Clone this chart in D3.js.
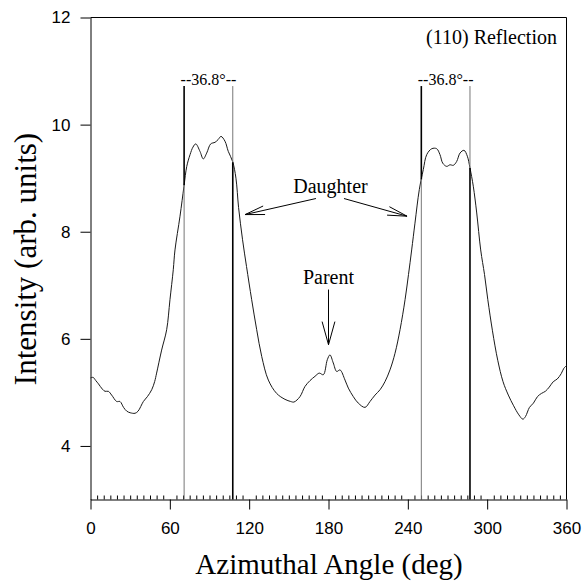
<!DOCTYPE html>
<html>
<head>
<meta charset="utf-8">
<script src="https://cdn.jsdelivr.net/npm/d3@7"></script>
<style>
body{margin:0;background:#fff;}
svg{display:block;}
.serif{font-family:"Liberation Serif","Times New Roman",serif;}
.tick text{font-family:"Liberation Sans",Arial,sans-serif;font-size:17px;fill:#000;}
</style>
</head>
<body>
<div id="graph"></div>
<script>
// azimuthal scan
var angle=[0,2,4,6,9,11,13.5,16,19.8,22.3,25,27.4,30,33.7,36,40,43,46.3,48.5,50,53.8,57.6,60.1,62.6,63.9,67.7,70.7,72.8,75.3,77.5,79.6,82.8,85.3,87.9,90.9,94.2,96.5,98.7,101.7,104.2,107.5,110,112,115,118,121.9,125.7,129.5,134.5,140.8,147.1,151.4,153.9,158.4,162.2,166,169.8,173,176.1,179.1,181.1,183.6,186.2,188.7,192.5,195,198.8,202.5,207.6,211.4,215.2,219,222.7,226.5,230.3,234.1,237.9,240.5,242.9,245.4,248.7,251.7,254.3,258.1,261.8,264.3,266.4,269.4,271.9,274.4,276.9,279.5,282.5,285,287,289.5,292.1,295.1,298,300.5,304,308,312,316,320,324,327,329,332,335,338,341,344,347,350,353,356,358,360];
var intensity=[5.27,5.28,5.22,5.16,5.06,5.02,5.02,4.95,4.83,4.83,4.72,4.65,4.62,4.61,4.65,4.83,4.92,5.05,5.2,5.36,5.79,6.17,6.73,7.29,7.66,8.29,8.85,9.22,9.44,9.58,9.64,9.5,9.36,9.47,9.64,9.67,9.72,9.78,9.69,9.5,9.31,9.0,8.45,7.85,7.35,6.73,6.17,5.67,5.23,4.98,4.87,4.83,4.82,4.92,5.11,5.22,5.3,5.36,5.33,5.61,5.7,5.55,5.39,5.42,5.23,5.08,4.92,4.8,4.72,4.83,4.95,5.05,5.2,5.42,5.73,6.17,6.73,7.2,7.66,8.16,8.79,9.16,9.44,9.55,9.55,9.44,9.28,9.22,9.25,9.24,9.31,9.47,9.52,9.41,9.19,8.85,8.35,7.66,7.2,6.73,6.15,5.6,5.2,4.95,4.75,4.58,4.5,4.55,4.72,4.8,4.92,4.98,5.02,5.1,5.2,5.25,5.35,5.45,5.5];

var xTicks=[0,60,120,180,240,300,360];
var yTicks=[4,6,8,10,12];
var markerAngles=[70.8,107.6,250.2,287.0];
var markerTop=10.72;
var gapLabel="--36.8°--";

var width=584,height=581;
var svg=d3.select("#graph").append("svg")
  .attr("width",width).attr("height",height);

var x=d3.scaleLinear().domain([0,360]).range([90.5,566.5]);
var y=d3.scaleLinear().domain([3,12]).range([499.5,17.5]);

// frame top and right
svg.append("path")
  .attr("d","M"+x(0)+","+y(12)+"H"+x(360)+"V"+y(3))
  .attr("fill","none").attr("stroke","#000").attr("stroke-width",1);

// minor ticks inside
var minor=d3.range(5,360,5).filter(function(d){return d%60!=0;});
svg.append("g")
  .attr("transform","translate(0,"+y(3)+")")
  .call(d3.axisBottom(x).tickValues(minor).tickSize(-4).tickSizeOuter(0).tickFormat(""))
  .call(function(g){g.select(".domain").remove();});

var xa=svg.append("g")
  .attr("transform","translate(0,"+y(3)+")")
  .call(d3.axisBottom(x).tickValues(xTicks).tickSize(10).tickSizeOuter(0).tickPadding(12));

var ya=svg.append("g")
  .attr("transform","translate("+x(0)+",0)")
  .call(d3.axisLeft(y).tickValues(yTicks).tickSize(10).tickSizeOuter(0).tickPadding(10));

svg.selectAll(".domain,.tick line").attr("stroke","#000");

// curve
var line=d3.line()
  .x(function(d,i){return x(angle[i]);})
  .y(function(d){return y(d);})
  .curve(d3.curveCatmullRom);
svg.append("path")
  .datum(intensity)
  .attr("d",line)
  .attr("fill","none")
  .attr("stroke","#1a1a1a")
  .attr("stroke-width",1);

// curve value at a given angle (for where the marker lines cross it)
function valueAt(a){
  var i=d3.bisector(function(d){return d;}).left(angle,a);
  var t=(a-angle[i-1])/(angle[i]-angle[i-1]);
  return intensity[i-1]+t*(intensity[i]-intensity[i-1]);
}

markerAngles.forEach(function(a,k){
  var cross=valueAt(a);
  var first=(k%2==0);
  svg.append("line")
    .attr("x1",x(a)).attr("x2",x(a))
    .attr("y1",y(markerTop)).attr("y2",y(cross))
    .attr("stroke",first?"#000":"#777")
    .attr("stroke-width",first?1.6:1);
  svg.append("line")
    .attr("x1",x(a)).attr("x2",x(a))
    .attr("y1",y(cross)).attr("y2",y(3))
    .attr("stroke",first?"#777":"#000")
    .attr("stroke-width",first?1:1.6);
});

[[markerAngles[0],markerAngles[1]],[markerAngles[2],markerAngles[3]]].forEach(function(p){
  svg.append("text").attr("class","serif")
    .attr("x",x((p[0]+p[1])/2)).attr("y",y(markerTop)-1)
    .attr("text-anchor","middle")
    .attr("font-size",16)
    .text(gapLabel);
});

// annotations
svg.append("text").attr("class","serif")
  .attr("x",x(352.8)).attr("y",y(11.51))
  .attr("text-anchor","end").attr("font-size",20)
  .text("(110) Reflection");

svg.append("text").attr("class","serif")
  .attr("x",x(181.5)).attr("y",y(8.73))
  .attr("text-anchor","middle").attr("font-size",20)
  .text("Daughter");

svg.append("text").attr("class","serif")
  .attr("x",x(180)).attr("y",y(7.02))
  .attr("text-anchor","middle").attr("font-size",20)
  .text("Parent");

function arrow(a1,v1,a2,v2,len,half){
  var x1=x(a1),y1=y(v1),x2=x(a2),y2=y(v2);
  var ang=Math.atan2(y1-y2,x1-x2);
  var g=svg.append("g").attr("stroke","#000").attr("stroke-width",1).attr("fill","none");
  g.append("line").attr("x1",x1).attr("y1",y1).attr("x2",x2).attr("y2",y2);
  [-half,half].forEach(function(h){
    g.append("line").attr("x1",x2).attr("y1",y2)
      .attr("x2",x2+len*Math.cos(ang+h)).attr("y2",y2+len*Math.sin(ang+h));
  });
}
arrow(170.5,8.62,116.9,8.32,20,0.22);
arrow(191.7,8.62,239.4,8.29,20,0.22);
arrow(180,6.92,180,5.89,24,0.27);

// axis titles
svg.append("text").attr("class","serif")
  .attr("x",329).attr("y",574)
  .attr("text-anchor","middle").attr("font-size",29)
  .text("Azimuthal Angle (deg)");

svg.append("text").attr("class","serif")
  .attr("transform","translate(36,259) rotate(-90)")
  .attr("text-anchor","middle").attr("font-size",31)
  .text("Intensity (arb. units)");
</script>
</body>
</html>
